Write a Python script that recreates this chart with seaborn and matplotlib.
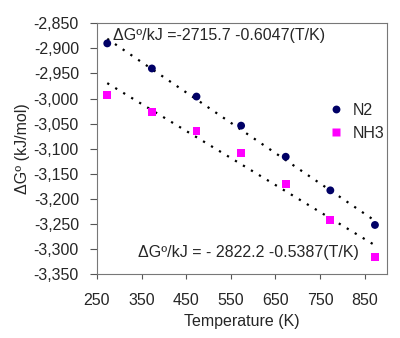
import matplotlib
matplotlib.use("Agg")
import matplotlib.pyplot as plt
import seaborn as sns
import numpy as np
import pandas as pd
from matplotlib.ticker import FuncFormatter

temps = [273, 373, 473, 573, 673, 773, 873]
n2 = [-2890, -2940, -2996, -3054, -3116, -3183, -3252]
nh3 = [-2993, -3026, -3064, -3109, -3170, -3242, -3316]
fit_n2 = (-2715.7, -0.6047)
fit_nh3 = (-2822.2, -0.5387)
eq_n2 = "\u0394G\u00ba/kJ =-2715.7 -0.6047(T/K)"
eq_nh3 = "\u0394G\u00ba/kJ = - 2822.2 -0.5387(T/K)"
xticks = [250, 350, 450, 550, 650, 750, 850]
yticks = list(range(-3350, -2849, 50))

sns.set_theme(style="white")
plt.rcParams['font.family'] = ['Liberation Sans', 'DejaVu Sans']

fig = plt.figure(figsize=(4, 3.38), dpi=100)
ax = fig.add_axes([0.2425, 0.189, 0.725, 0.742])

df = pd.DataFrame({"T": temps * 2, "G": n2 + nh3,
                   "series": ["N2"] * len(temps) + ["NH3"] * len(temps)})

t = np.array(temps, dtype=float)
for (a, b) in (fit_n2, fit_nh3):
    ax.plot(t, a + b * t, color="black", linestyle=(0, (1, 3.2)), linewidth=1.6, zorder=1)

sns.scatterplot(data=df, x="T", y="G", hue="series", style="series",
                palette={"N2": "#000066", "NH3": "#FF00FF"},
                markers={"N2": "o", "NH3": "s"}, s=32, edgecolor="none",
                ax=ax, zorder=3)

ax.set_xlim(250, 900)
ax.set_ylim(-3350, -2850)
ax.set_xticks(xticks)
ax.set_yticks(yticks)
ax.yaxis.set_major_formatter(FuncFormatter(lambda v, p: f"{int(v):,}"))
ax.tick_params(axis="both", labelsize=11.5, direction="out", width=0.8,
               color="#555555", left=True, bottom=True)
ax.tick_params(axis="y", length=5, pad=8)
ax.tick_params(axis="x", length=3.6, pad=10)
for s in ax.spines.values():
    s.set_color("#777777")
    s.set_linewidth(0.8)

ax.set_xlabel("Temperature (K)", fontsize=11.5, labelpad=4)
ax.set_ylabel("\u0394G\u00ba (kJ/mol)", fontsize=11.5, labelpad=3)

ax.text(0.055, 0.95, eq_n2, transform=ax.transAxes, fontsize=11.5, va="center", ha="left")
ax.text(0.14, 0.085, eq_nh3, transform=ax.transAxes, fontsize=11.5, va="center", ha="left")

leg = ax.legend(title=None, loc="upper right", bbox_to_anchor=(1.04, 0.74), frameon=False,
                fontsize=11.5, handletextpad=0.05, labelspacing=0.5, markerscale=1.0)

fig.savefig("out.png", dpi=100)
